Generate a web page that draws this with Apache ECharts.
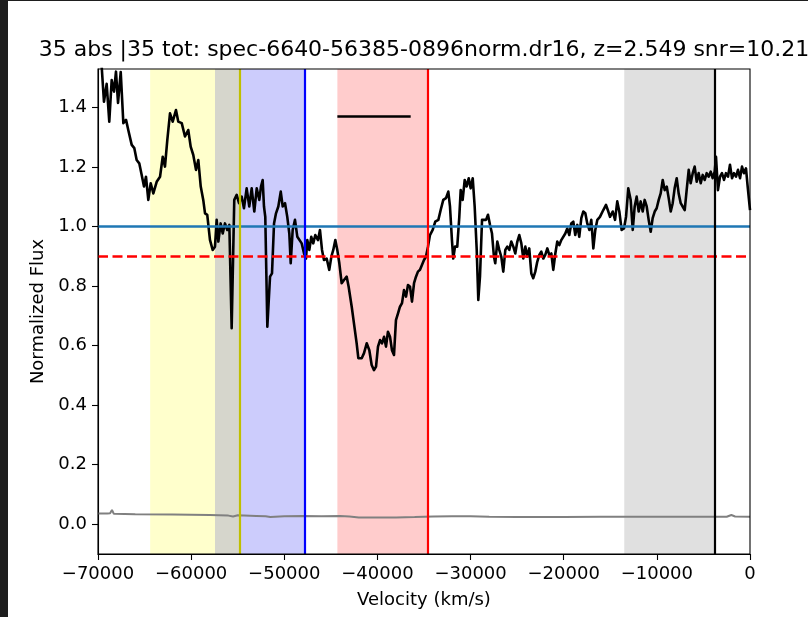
<!DOCTYPE html>
<html>
<head>
<meta charset="utf-8">
<script src="https://cdn.jsdelivr.net/npm/echarts@6/dist/echarts.min.js"></script>
<style>
html,body{margin:0;padding:0;background:#fff;}
#chart{width:808px;height:617px;}
</style>
</head>
<body>
<div id="chart"></div>
<script>
// ---- data ----
const titleText = '35 abs |35 tot: spec-6640-56385-0896norm.dr16, z=2.549 snr=10.21';
const xTicks = [-70000,-60000,-50000,-40000,-30000,-20000,-10000,0];
const yTicks = [0.0,0.2,0.4,0.6,0.8,1.0,1.2,1.4];

const velocity = [-70000,-69650,-69360,-69070,-68790,-68530,-68280,-68070,-67850,-67560,-67280,-66990,-66750,-66380,-66100,-65850,-65570,-65310,-65060,-64850,-64600,-64340,-64060,-63700,-63340,-63050,-62810,-62560,-62270,-61980,-61630,-61380,-61010,-60660,-60310,-60050,-59770,-59480,-59230,-58970,-58700,-58510,-58270,-57980,-57690,-57440,-57260,-57080,-56830,-56610,-56370,-56120,-55900,-55650,-55370,-55110,-54860,-54570,-54330,-54040,-53760,-53500,-53220,-52960,-52680,-52500,-52320,-52180,-52040,-51820,-51530,-51320,-51100,-50890,-50640,-50380,-50170,-49920,-49680,-49460,-49310,-49100,-48850,-48600,-48390,-48130,-47880,-47670,-47530,-47310,-47100,-46890,-46670,-46380,-46170,-45950,-45740,-45450,-45170,-44950,-44740,-44520,-44310,-44090,-43840,-43590,-43300,-43090,-42760,-42520,-42230,-42050,-41690,-41440,-41150,-40870,-40620,-40370,-40150,-39940,-39720,-39510,-39290,-39080,-38870,-38650,-38440,-38220,-38010,-37790,-37580,-37360,-37150,-36930,-36720,-36500,-36290,-36070,-35860,-35650,-35430,-35220,-35000,-34790,-34570,-34360,-34070,-33790,-33460,-33210,-32930,-32640,-32390,-32210,-32000,-31860,-31670,-31430,-31210,-31060,-30850,-30630,-30420,-30200,-29990,-29770,-29560,-29340,-29170,-28990,-28770,-28560,-28340,-28130,-27910,-27700,-27490,-27350,-27130,-26920,-26700,-26490,-26270,-26060,-25840,-25630,-25410,-25200,-24980,-24770,-24550,-24340,-24120,-23910,-23700,-23480,-23270,-23050,-22840,-22620,-22410,-22190,-21980,-21760,-21550,-21330,-21120,-20900,-20690,-20470,-20260,-20050,-19830,-19620,-19400,-19190,-18970,-18760,-18540,-18330,-18110,-17900,-17680,-17470,-17250,-17040,-16820,-16610,-16390,-16110,-15750,-15460,-15210,-15030,-14740,-14490,-14250,-14030,-13780,-13530,-13310,-13070,-12810,-12590,-12380,-12170,-11950,-11740,-11520,-11310,-11090,-10880,-10660,-10450,-10230,-10020,-9800,-9590,-9370,-9160,-8940,-8730,-8510,-8300,-8090,-7870,-7660,-7440,-7230,-7010,-6800,-6580,-6370,-6150,-5940,-5720,-5510,-5290,-5080,-4860,-4650,-4440,-4220,-4010,-3790,-3650,-3440,-3220,-3010,-2790,-2580,-2360,-2150,-1930,-1720,-1500,-1290,-1070,-860,-650,-430,-250,0];

const flux = [1.55,1.56,1.42,1.48,1.353,1.493,1.454,1.521,1.416,1.52,1.348,1.359,1.325,1.275,1.264,1.224,1.213,1.174,1.135,1.168,1.090,1.146,1.112,1.151,1.168,1.235,1.202,1.291,1.381,1.353,1.392,1.353,1.348,1.303,1.325,1.269,1.241,1.191,1.224,1.135,1.090,1.045,1.040,0.956,0.922,0.933,1.023,0.950,1.011,0.977,1.011,0.989,1.006,0.659,1.090,1.107,1.079,1.101,1.062,1.129,1.068,1.129,1.051,1.129,1.090,1.135,1.157,1.068,1.033,0.664,0.832,0.843,1.011,1.045,1.068,1.118,1.068,1.079,1.033,0.977,0.877,0.989,1.023,0.966,0.972,0.944,0.910,0.893,0.955,0.922,0.966,0.944,0.972,0.955,0.989,0.922,0.888,0.893,0.855,0.899,0.922,0.955,0.922,0.877,0.810,0.821,0.832,0.798,0.731,0.675,0.608,0.558,0.558,0.575,0.608,0.585,0.535,0.518,0.530,0.597,0.619,0.608,0.630,0.597,0.647,0.630,0.585,0.569,0.686,0.709,0.731,0.743,0.787,0.765,0.804,0.798,0.748,0.810,0.832,0.849,0.855,0.871,0.888,0.899,0.933,0.972,0.989,1.017,1.023,1.056,1.090,1.096,1.118,1.068,0.955,0.893,0.933,0.933,1.033,1.123,1.090,1.157,1.135,1.163,1.129,1.163,1.068,0.922,0.754,0.832,1.023,1.029,1.023,1.040,1.006,0.977,0.899,0.877,0.950,0.922,0.899,0.849,0.922,0.933,0.922,0.950,0.933,0.910,0.950,0.972,0.944,0.893,0.933,0.899,0.927,0.843,0.827,0.849,0.882,0.905,0.916,0.893,0.905,0.927,0.905,0.910,0.855,0.910,0.950,0.938,0.955,0.950,0.977,0.994,0.972,1.011,1.017,0.972,1.006,0.966,1.029,1.051,1.045,1.011,0.989,1.023,0.927,0.989,1.023,1.033,1.056,1.073,1.051,1.033,1.051,1.023,1.085,1.051,0.989,0.994,1.033,1.129,1.090,0.989,1.068,1.101,1.051,1.085,1.051,1.090,1.068,1.023,0.983,1.029,1.051,1.062,1.090,1.112,1.157,1.123,1.135,1.096,1.051,1.079,1.129,1.163,1.112,1.079,1.068,1.056,1.123,1.191,1.146,1.180,1.202,1.151,1.180,1.146,1.174,1.157,1.180,1.168,1.185,1.163,1.185,1.235,1.123,1.168,1.180,1.157,1.180,1.168,1.208,1.163,1.180,1.168,1.191,1.163,1.202,1.180,1.196,1.135,1.056];

const errVelocity = [-70000,-69000,-68700,-68500,-68300,-66000,-62000,-58000,-56000,-55500,-55000,-53000,-52000,-51500,-50000,-48000,-46000,-44000,-43000,-42000,-40000,-38000,-36000,-34000,-32000,-30000,-28000,-25000,-22000,-20000,-16000,-12000,-8000,-5000,-2500,-2000,-1600,0];
const errFlux = [0.036,0.036,0.037,0.048,0.035,0.034,0.033,0.031,0.029,0.026,0.030,0.028,0.027,0.024,0.027,0.028,0.027,0.028,0.026,0.023,0.023,0.023,0.024,0.026,0.027,0.027,0.025,0.024,0.024,0.024,0.025,0.025,0.025,0.025,0.025,0.031,0.026,0.025];

// shaded velocity ranges [start, end]
const yellowBand = [-64400, -57440];
const overlapBand = [-57440, -54800];
const blueBand = [-54800, -47800];
const redBand = [-44300, -34570];
const grayBand = [-13500, -3750];
// vertical marker velocities
const oliveLineV = -54800;
const blueLineV = -47800;
const redLineV = -34570;
const blackLineV = -3750;
// horizontal reference levels
const continuumLevel = 1.0;
const thresholdLevel = 0.9;
// short black segment
const segmentRange = [-44300, -36430];
const segmentLevel = 1.37;

// ---- chart ----
const FONT = 'DejaVu Sans';
const chart = echarts.init(document.getElementById('chart'), null, {renderer: 'canvas'});
const minus = v => (v < 0 ? '\u2212' + Math.abs(v) : String(v));

function vline(v, color) {
  return {xAxis: v, lineStyle: {color: color, width: 2.2, type: 'solid'}};
}

const option = {
  animation: false,
  backgroundColor: '#ffffff',
  graphic: [
    {type: 'rect', shape: {x: 0, y: 0, width: 8, height: 617}, style: {fill: '#1e1e1e'}, z: 100},
    {type: 'rect', shape: {x: 0, y: 0, width: 808, height: 1}, style: {fill: '#1e1e1e'}, z: 100},
    {type: 'text', x: 424, y: 50, style: {text: titleText, font: '22px "DejaVu Sans"', fill: '#000', textAlign: 'center', textVerticalAlign: 'middle'}, z: 100}
  ],
  grid: {left: 98, top: 69, width: 652, height: 485, show: true, borderColor: '#000', borderWidth: 1.1, backgroundColor: 'transparent', z: 10},
  xAxis: {
    type: 'value', min: -70000, max: 0, interval: 10000,
    name: 'Velocity (km/s)', nameLocation: 'middle', nameGap: 37,
    nameTextStyle: {fontFamily: FONT, fontSize: 18, color: '#000'},
    axisLine: {show: true, onZero: false, lineStyle: {color: '#000', width: 1.1}},
    axisTick: {show: true, inside: false, length: 6, lineStyle: {color: '#000', width: 1.1}},
    axisLabel: {show: true, margin: 11, fontFamily: FONT, fontSize: 18, color: '#000', formatter: minus, customValues: xTicks},
    splitLine: {show: false}
  },
  yAxis: {
    type: 'value', min: -0.1, max: 1.53,
    name: 'Normalized Flux', nameLocation: 'middle', nameRotate: 90, nameGap: 50,
    nameTextStyle: {fontFamily: FONT, fontSize: 18, color: '#000'},
    axisLine: {show: true, onZero: false, lineStyle: {color: '#000', width: 1.1}},
    axisTick: {show: true, inside: false, length: 6, lineStyle: {color: '#000', width: 1.1}, customValues: yTicks},
    axisLabel: {show: true, margin: 11, fontFamily: FONT, fontSize: 18, color: '#000', formatter: v => v.toFixed(1), customValues: yTicks},
    splitLine: {show: false}
  },
  series: [
    {
      name: 'bands', type: 'line', data: [], z: 1, silent: true,
      markArea: {
        silent: true,
        data: [
          [{xAxis: yellowBand[0], itemStyle: {color: '#ffffcc'}}, {xAxis: yellowBand[1]}],
          [{xAxis: overlapBand[0], itemStyle: {color: '#d6d6cc'}}, {xAxis: overlapBand[1]}],
          [{xAxis: blueBand[0], itemStyle: {color: '#ccccfc'}}, {xAxis: blueBand[1]}],
          [{xAxis: redBand[0], itemStyle: {color: '#ffcccc'}}, {xAxis: redBand[1]}],
          [{xAxis: grayBand[0], itemStyle: {color: '#e0e0e0'}}, {xAxis: grayBand[1]}]
        ]
      }
    },
    {
      name: 'error', type: 'line', z: 3, silent: true, showSymbol: false, symbol: 'none',
      data: errVelocity.map((v, i) => [v, errFlux[i]]),
      lineStyle: {color: '#808080', width: 2}
    },
    {
      name: 'flux', type: 'line', z: 4, silent: true, showSymbol: false, symbol: 'none', clip: true,
      data: velocity.map((v, i) => [v, flux[i]]),
      lineStyle: {color: '#000000', width: 2.6, join: 'round'}
    },
    {
      name: 'refs', type: 'line', data: [], z: 5, silent: true,
      markLine: {
        silent: true, symbol: ['none', 'none'], label: {show: false}, animation: false,
        data: [
          {yAxis: continuumLevel, lineStyle: {color: '#1f77b4', width: 2.6, type: 'solid'}},
          {yAxis: thresholdLevel, lineStyle: {color: '#ff0000', width: 2.6, type: [10, 4.5]}},
          vline(oliveLineV, '#bfbf00'),
          vline(blueLineV, '#0000ff'),
          vline(redLineV, '#ff0000'),
          vline(blackLineV, '#000000'),
          [{coord: [segmentRange[0], segmentLevel], lineStyle: {color: '#000', width: 2.6, type: 'solid'}}, {coord: [segmentRange[1], segmentLevel]}]
        ]
      }
    }
  ]
};
chart.setOption(option);
</script>
</body>
</html>
